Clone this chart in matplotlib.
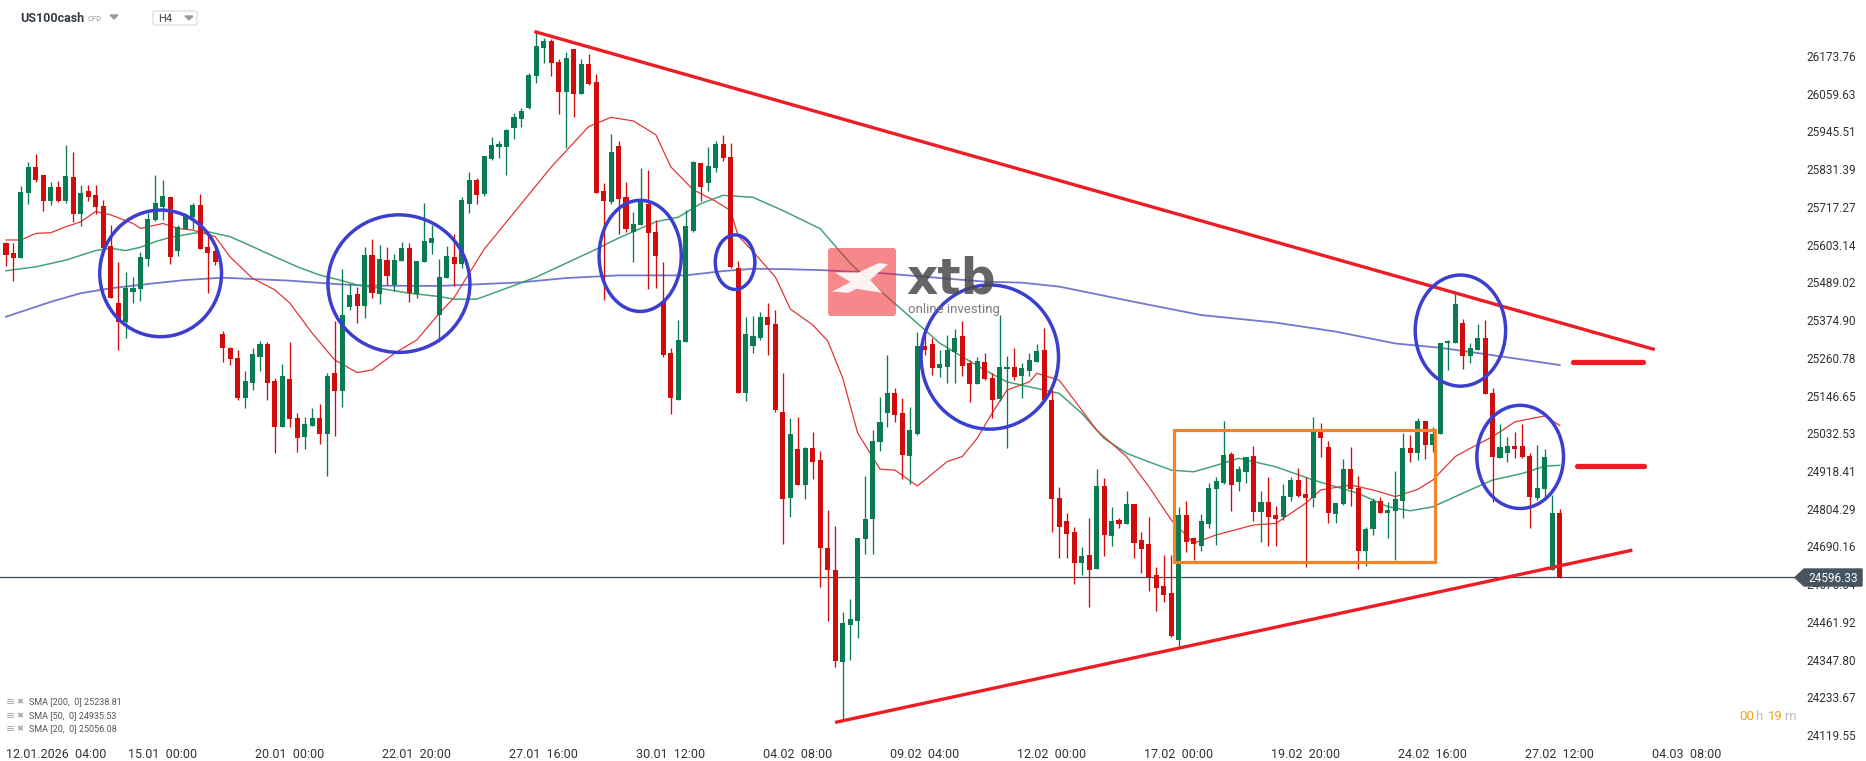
import numpy as np
import matplotlib
matplotlib.use("Agg")
import matplotlib.pyplot as plt
from matplotlib.patches import Ellipse, Rectangle, FancyBboxPatch, Polygon

plt.rcParams["font.family"] = ["Roboto", "DejaVu Sans"]

# H4 candles, oldest first (last one is 27.02 12:00)
opens = [
    25607, 25579, 25564, 25760, 25838, 25814, 25736, 25778, 25736, 25808,
    25697, 25766, 25753, 25720, 25599, 25425, 25370, 25460, 25470, 25561,
    25678, 25718, 25747, 25585, 25651, 25686, 25723, 25596, 25585, 25333,
    25290, 25259, 25140, 25186, 25264, 25303, 25191, 25050, 25198, 25078,
    25020, 25055, 25079, 25030, 25215, 25159, 25413, 25453, 25418, 25572,
    25455, 25557, 25480, 25554, 25592, 25455, 25549, 25609, 25390, 25501,
    25566, 25543, 25727, 25797, 25755, 25863, 25898, 25899, 25955, 25983,
    26015, 26112, 26199, 26220, 26155, 26066, 26195, 26060, 26149, 26095,
    25766, 25733, 25901, 25748, 25641, 25661, 25727, 25641, 25429, 25276,
    25134, 25310, 25644, 25849, 25788, 25836, 25908, 25869, 25533, 25154,
    25295, 25322, 25383, 25364, 25096, 24837, 24984, 24876, 24989, 24951,
    24684, 24618, 24340, 24454, 24465, 24712, 24773, 25006, 25095, 25153,
    25093, 24964, 25029, 25296, 25302, 25231, 25234, 25279, 25327, 25244,
    25182, 25249, 25201, 25136, 25226, 25234, 25206, 25222, 25247, 25284,
    25133, 24836, 24767, 24734, 24641, 24664, 24622, 24873, 24723, 24770,
    24758, 24818, 24710, 24698, 24603, 24571, 24550, 24407, 24785, 24717,
    24693, 24758, 24863, 24883, 24970, 24886, 24916, 24964, 24793, 24826,
    24785, 24780, 24839, 24891, 24848, 24838, 25037, 24990, 24788, 24818,
    24923, 24866, 24677, 24743, 24828, 24792, 24798, 24829, 24987, 24972,
    25070, 24997, 25029, 25304, 25306, 25365, 25267, 25284, 25320, 25153,
    24959, 24974, 24994, 24994, 24964, 24836, 24863, 24619, 24790,
]
highs = [
    25612, 25607, 25781, 25852, 25877, 25814, 25792, 25796, 25905, 25883,
    25782, 25782, 25784, 25738, 25663, 25551, 25519, 25506, 25582, 25698,
    25814, 25799, 25748, 25663, 25698, 25729, 25756, 25635, 25592, 25343,
    25293, 25285, 25221, 25290, 25313, 25307, 25199, 25241, 25307, 25095,
    25083, 25110, 25122, 25215, 25372, 25529, 25484, 25476, 25595, 25620,
    25602, 25595, 25575, 25612, 25607, 25554, 25730, 25661, 25560, 25598,
    25636, 25748, 25824, 25804, 25872, 25927, 25915, 25953, 26001, 26015,
    26123, 26245, 26227, 26224, 26163, 26185, 26195, 26164, 26181, 26119,
    25790, 25938, 25915, 25793, 25702, 25836, 25830, 25677, 25551, 25290,
    25376, 25707, 25855, 25849, 25898, 25915, 25935, 25910, 25554, 25385,
    25387, 25400, 25425, 25404, 25214, 25078, 25082, 24992, 25037, 24978,
    24801, 24753, 24493, 24532, 24717, 24902, 25043, 25142, 25269, 25168,
    25138, 25113, 25340, 25352, 25320, 25284, 25329, 25347, 25373, 25254,
    25264, 25274, 25214, 25390, 25266, 25289, 25244, 25274, 25301, 25350,
    25163, 24871, 24790, 24750, 24689, 24775, 24923, 24896, 24808, 24775,
    24858, 24818, 24735, 24780, 24629, 24664, 24664, 24811, 24829, 24720,
    24788, 24881, 24901, 25070, 24977, 24934, 24962, 24995, 24858, 24899,
    24813, 24879, 24899, 24926, 24899, 25081, 25063, 25009, 24821, 24954,
    24990, 24903, 24750, 24837, 24841, 24826, 24918, 25034, 25027, 25078,
    25070, 25050, 25304, 25315, 25453, 25377, 25304, 25363, 25375, 25168,
    25062, 25022, 25037, 25060, 24972, 24997, 24984, 24846, 24802,
]
lows = [
    25537, 25494, 25564, 25725, 25791, 25705, 25722, 25733, 25730, 25670,
    25660, 25736, 25695, 25592, 25443, 25283, 25322, 25426, 25431, 25537,
    25673, 25678, 25545, 25570, 25651, 25651, 25591, 25458, 25541, 25249,
    25238, 25132, 25110, 25162, 25222, 25134, 24974, 25050, 25050, 24977,
    24984, 25055, 25001, 24904, 25023, 25113, 25405, 25365, 25382, 25441,
    25423, 25481, 25464, 25554, 25428, 25443, 25549, 25575, 25310, 25501,
    25478, 25533, 25700, 25727, 25751, 25859, 25866, 25815, 25922, 25960,
    26012, 26092, 26151, 26113, 25998, 25894, 25988, 26060, 26087, 25758,
    25436, 25725, 25634, 25641, 25550, 25661, 25468, 25471, 25263, 25092,
    25134, 25307, 25640, 25734, 25766, 25824, 25855, 25533, 25154, 25129,
    25276, 25314, 25270, 25096, 24698, 24780, 24876, 24834, 24895, 24569,
    24465, 24326, 24164, 24347, 24414, 24666, 24666, 24978, 25050, 25068,
    24893, 24879, 25027, 25270, 25209, 25204, 25184, 25184, 25206, 25126,
    25182, 25194, 25078, 25130, 24987, 25194, 25140, 25206, 25247, 25128,
    24735, 24654, 24654, 24576, 24604, 24508, 24622, 24661, 24693, 24745,
    24758, 24654, 24609, 24556, 24496, 24523, 24415, 24387, 24674, 24649,
    24677, 24745, 24695, 24879, 24798, 24859, 24883, 24768, 24705, 24693,
    24693, 24770, 24829, 24839, 24629, 24808, 24960, 24760, 24760, 24816,
    24812, 24621, 24632, 24725, 24792, 24717, 24649, 24777, 24947, 24952,
    24955, 24977, 25029, 25224, 25306, 25227, 25246, 25284, 25151, 24826,
    24957, 24945, 24957, 24957, 24745, 24831, 24836, 24619, 24594,
]
closes = [
    25572, 25564, 25762, 25838, 25797, 25736, 25778, 25736, 25811, 25697,
    25760, 25748, 25716, 25594, 25443, 25370, 25473, 25473, 25566, 25681,
    25730, 25750, 25567, 25656, 25690, 25723, 25591, 25579, 25549, 25289,
    25256, 25140, 25191, 25272, 25303, 25183, 25050, 25206, 25075, 25017,
    25061, 25079, 25030, 25206, 25159, 25390, 25452, 25418, 25572, 25458,
    25560, 25509, 25557, 25594, 25458, 25554, 25614, 25622, 25506, 25568,
    25543, 25737, 25797, 25754, 25872, 25904, 25908, 25949, 25990, 26008,
    26116, 26203, 26220, 26151, 26066, 26167, 26060, 26149, 26088, 25758,
    25734, 25883, 25741, 25650, 25665, 25733, 25637, 25568, 25268, 25138,
    25314, 25658, 25852, 25776, 25841, 25908, 25866, 25536, 25154, 25332,
    25328, 25385, 25360, 25103, 24834, 25030, 24876, 24989, 24946, 24687,
    24618, 24343, 24458, 24470, 24717, 24773, 25009, 25068, 25153, 25088,
    24966, 25042, 25296, 25284, 25231, 25241, 25284, 25322, 25237, 25182,
    25251, 25196, 25133, 25232, 25234, 25204, 25229, 25254, 25282, 25133,
    24834, 24750, 24728, 24641, 24661, 24619, 24873, 24725, 24768, 24758,
    24818, 24702, 24681, 24599, 24566, 24544, 24419, 24785, 24705, 24698,
    24767, 24868, 24888, 24967, 24877, 24923, 24962, 24793, 24826, 24780,
    24773, 24843, 24891, 24843, 24838, 25037, 25019, 24790, 24821, 24923,
    24864, 24677, 24743, 24828, 24792, 24800, 24833, 24987, 24972, 25070,
    24997, 25030, 25304, 25312, 25423, 25267, 25289, 25320, 25151, 24960,
    24990, 24994, 24986, 24960, 24841, 24866, 24960, 24790, 24596.33,
]

# moving averages (candle index, price)
sma200_x = [0, 6, 10, 14, 19, 24, 29, 33, 38, 44, 48, 58, 69, 75, 82, 91, 96,
            100, 104, 109, 117, 131, 136, 141, 146, 151, 160, 170, 178, 186,
            192, 198, 208]
sma200_y = [25385, 25430, 25456, 25471, 25484, 25496, 25503, 25499, 25494,
            25484, 25479, 25478, 25489, 25502, 25510, 25510, 25523, 25530,
            25529, 25526, 25517, 25491, 25488, 25476, 25453, 25430, 25390,
            25367, 25340, 25304, 25291, 25272, 25238.81]
sma50_x = [0, 4, 8, 12, 14, 16, 18, 20, 22, 25, 27, 30, 33, 36, 39, 42, 45,
           47, 50, 54, 58, 60, 63, 67, 71, 75, 79, 82, 87, 90, 93, 96, 100,
           104, 109, 113, 117, 120, 123, 125, 128, 131, 134, 137, 141, 144,
           147, 150, 153, 156, 159, 163, 165, 170, 175, 181, 185, 188, 191,
           195, 199, 203, 206, 208]
sma50_y = [25524, 25536, 25556, 25585, 25592, 25585, 25595, 25612, 25625,
           25637, 25642, 25627, 25597, 25566, 25536, 25511, 25494, 25481,
           25471, 25456, 25446, 25438, 25438, 25471, 25505, 25547, 25589,
           25623, 25672, 25686, 25727, 25752, 25746, 25706, 25651, 25547,
           25464, 25405, 25345, 25305, 25264, 25224, 25188, 25173, 25153,
           25093, 25017, 24972, 24946, 24921, 24916, 24942, 24957, 24931,
           24891, 24851, 24810, 24798, 24810, 24851, 24891, 24911, 24933,
           24935.53]
sma20_x = [0, 2, 4, 6, 8, 10, 12, 14, 17, 18, 21, 23, 25, 28, 30, 33, 36, 38,
           41, 44, 47, 49, 52, 55, 58, 60, 64, 69, 73, 78, 81, 84, 87, 89, 92,
           95, 97, 98, 100, 103, 105, 108, 110, 112, 114, 117, 119, 122, 123,
           126, 128, 130, 132, 134, 137, 138, 141, 143, 146, 150, 153, 156,
           159, 162, 167, 170, 174, 176, 180, 183, 186, 189, 191, 194, 196,
           199, 202, 206, 208]
sma20_y = [25617, 25617, 25637, 25639, 25657, 25672, 25703, 25693, 25667,
           25652, 25667, 25652, 25647, 25627, 25566, 25501, 25466, 25426,
           25335, 25254, 25216, 25224, 25274, 25315, 25395, 25443, 25589,
           25727, 25838, 25960, 25988, 25977, 25935, 25838, 25769, 25734,
           25706, 25630, 25582, 25505, 25408, 25360, 25312, 25200, 25034,
           24924, 24921, 24873, 24891, 24947, 24962, 25017, 25093, 25163,
           25188, 25214, 25193, 25133, 25042, 24962, 24871, 24770, 24700,
           24725, 24755, 24760, 24821, 24861, 24876, 24861, 24841, 24863,
           24891, 24962, 24987, 25022, 25067, 25085, 25056.08]

time_ticks = [0, 21, 38, 55, 72, 89, 106, 123, 140, 157, 174, 191, 208, 225]
time_labels = ["12.01.2026  04:00", "15.01  00:00", "20.01  00:00",
               "22.01  20:00", "27.01  16:00", "30.01  12:00", "04.02  08:00",
               "09.02  04:00", "12.02  00:00", "17.02  00:00", "19.02  20:00",
               "24.02  16:00", "27.02  12:00", "04.03  08:00"]
price_ticks = [26173.76, 26059.63, 25945.51, 25831.39, 25717.27, 25603.14,
               25489.02, 25374.90, 25260.78, 25146.65, 25032.53, 24918.41,
               24804.29, 24690.16, 24576.04, 24461.92, 24347.80, 24233.67,
               24119.55]
last_price = 24596.33

# drawn annotations (candle index / price)
trend_upper = ([70.95, 220.5], [26246, 25287])
trend_lower = ([111.2, 217.5], [24159, 24678])
levels = [(209.8, 219.2, 25249), (210.3, 219.3, 24932)]
range_box = (156.3, 191.3, 24644, 25041)
ell_x = [20.7, 52.6, 84.9, 97.6, 131.7, 194.7, 202.7]
ell_y = [25516, 25485, 25569, 25550, 25263, 25343, 24961]
ell_w = [16.3, 19.0, 11.0, 5.3, 18.4, 12.1, 11.6]
ell_h = [383, 416, 336, 165, 436, 336, 312]

GREEN = "#0a7c51"
RED = "#d10c0c"
LINE_RED = "#ee1d25"


def draw_candles(ax):
    """Wicks and bodies of the H4 candles."""
    o = np.array(opens, dtype=float)
    h = np.array(highs, dtype=float)
    lo = np.array(lows, dtype=float)
    c = np.array(closes, dtype=float)
    idx = np.arange(len(o))
    colors = np.where(c >= o, GREEN, RED)
    ax.vlines(idx, lo, h, colors=colors, linewidth=0.95, zorder=3)
    body = np.maximum(np.abs(c - o), 3.0)
    ax.bar(idx, body, bottom=np.minimum(o, c), width=0.68, color=colors,
           linewidth=0, zorder=3)


def draw_analysis(ax):
    """Trend lines, levels, range box and circles."""
    ax.plot(*trend_upper, color=LINE_RED, lw=2.4, zorder=5)
    ax.plot(*trend_lower, color=LINE_RED, lw=2.4, zorder=5)
    for x0, x1, y in levels:
        ax.plot([x0, x1], [y, y], color=LINE_RED, lw=3.8,
                solid_capstyle="round", zorder=5)
    x0, x1, y0, y1 = range_box
    ax.add_patch(Rectangle((x0, y0), x1 - x0, y1 - y0, fill=False,
                           ec="#f5832a", lw=2.3, zorder=5))
    for x, y, w, hh in zip(ell_x, ell_y, ell_w, ell_h):
        ax.add_patch(Ellipse((x, y), w, hh, fill=False, ec="#3b3fd0",
                             lw=2.5, zorder=6))


def draw_overlay(fig):
    """Header, legend, watermark, timer and last price tag (pixel coords)."""
    ov = fig.add_axes([0, 0, 1, 1])
    ov.set_xlim(0, 1866)
    ov.set_ylim(761, 0)
    ov.axis("off")

    # header
    ov.text(20, 18, "US100cash", fontsize=9, fontweight="bold",
            color="#333c45", va="center")
    ov.text(88, 19, "CFD", fontsize=5.5, color="#9a9a9a", va="center")
    ov.add_patch(Polygon([(110, 15), (118, 15), (114, 19)], color="#9a9a9a"))
    ov.add_patch(FancyBboxPatch((153, 11), 44, 14,
                                boxstyle="round,pad=0,rounding_size=2",
                                fc="white", ec="#d8d8d8", lw=0.8))
    ov.text(158, 18.5, "H4", fontsize=8, color="#444444", va="center")
    ov.add_patch(Polygon([(185, 16), (193, 16), (189, 20)], color="#9a9a9a"))

    # SMA legend
    legend = ["SMA [200,  0] 25238.81", "SMA [50,  0] 24935.53",
              "SMA [20,  0] 25056.08"]
    for k, label in enumerate(legend):
        y = 702 + 13.5 * k
        ov.text(6, y, "≡", fontsize=8, color="#a8a8a8", va="center",
                family="DejaVu Sans")
        ov.text(16, y, "✖", fontsize=6, color="#a8a8a8", va="center",
                family="DejaVu Sans")
        ov.text(29, y, label, fontsize=6.5, color="#555555", va="center")

    # xtb watermark
    ov.add_patch(FancyBboxPatch((828, 248), 68, 68,
                                boxstyle="round,pad=0,rounding_size=3",
                                fc="#f0262e", ec="none", alpha=0.55,
                                zorder=8))
    mark = [(0.10, 0.36), (0.45, 0.36), (0.75, 0.22), (0.88, 0.24),
            (0.62, 0.47), (0.80, 0.66), (0.42, 0.60), (0.30, 0.66),
            (0.06, 0.64), (0.33, 0.50)]
    ov.add_patch(Polygon([(828 + 68 * a, 248 + 68 * b) for a, b in mark],
                         fc="white", ec="none", alpha=0.9, zorder=9))
    ov.text(906, 293, "xtb", fontsize=35, fontweight="bold",
            family="DejaVu Sans", color="#4a4a4a", alpha=0.85,
            va="baseline", zorder=9)
    ov.text(908, 309, "online investing", fontsize=9.5, color="#6e6e6e",
            alpha=0.9, va="center", zorder=9)

    # candle timer
    for x, s, col in [(1739, "00", "#f5a21b"), (1755, "h", "#bdbdbd"),
                      (1768, "19", "#f5a21b"), (1784, "m", "#bdbdbd")]:
        ov.text(x, 716, s, fontsize=9.5, color=col, va="center")

    # last price tag
    ov.add_patch(Polygon([(1795, 577.5), (1804, 569), (1862, 569),
                          (1862, 586), (1804, 586)], color="#45545f",
                         zorder=10))
    ov.text(1833, 578, f"{last_price:.2f}", fontsize=8.5, color="white",
            ha="center", va="center", zorder=11)


def main():
    fig = plt.figure(figsize=(18.66, 7.61), dpi=100)
    ax = fig.add_axes([0, 19 / 761, 1795 / 1866, 742 / 761])
    ax.set_xlim(-0.803, 239.49)
    ax.set_ylim(24098.8, 26342.8)
    for spine in ax.spines.values():
        spine.set_visible(False)

    ax.axhline(last_price, color="#3d4b56", lw=0.9, zorder=1)
    ax.plot(sma200_x, sma200_y, color="#5c61c4", lw=1.3, alpha=0.85, zorder=2)
    ax.plot(sma50_x, sma50_y, color="#2f9a69", lw=1.1, alpha=0.9, zorder=2)
    ax.plot(sma20_x, sma20_y, color="#e23636", lw=0.9, zorder=2)

    draw_candles(ax)
    draw_analysis(ax)

    ax.yaxis.tick_right()
    ax.set_yticks(price_ticks)
    ax.set_yticklabels([f"{v:.2f}" for v in price_ticks])
    ax.tick_params(axis="y", length=0, pad=8, labelsize=8.5,
                   labelcolor="#333333")
    ax.set_xticks(time_ticks)
    ax.set_xticklabels(time_labels)
    ax.tick_params(axis="x", length=0, pad=4, labelsize=9,
                   labelcolor="#333333")
    ax.get_xticklabels()[0].set_horizontalalignment("left")

    draw_overlay(fig)
    fig.savefig("out.png", dpi=100)


if __name__ == "__main__":
    main()
